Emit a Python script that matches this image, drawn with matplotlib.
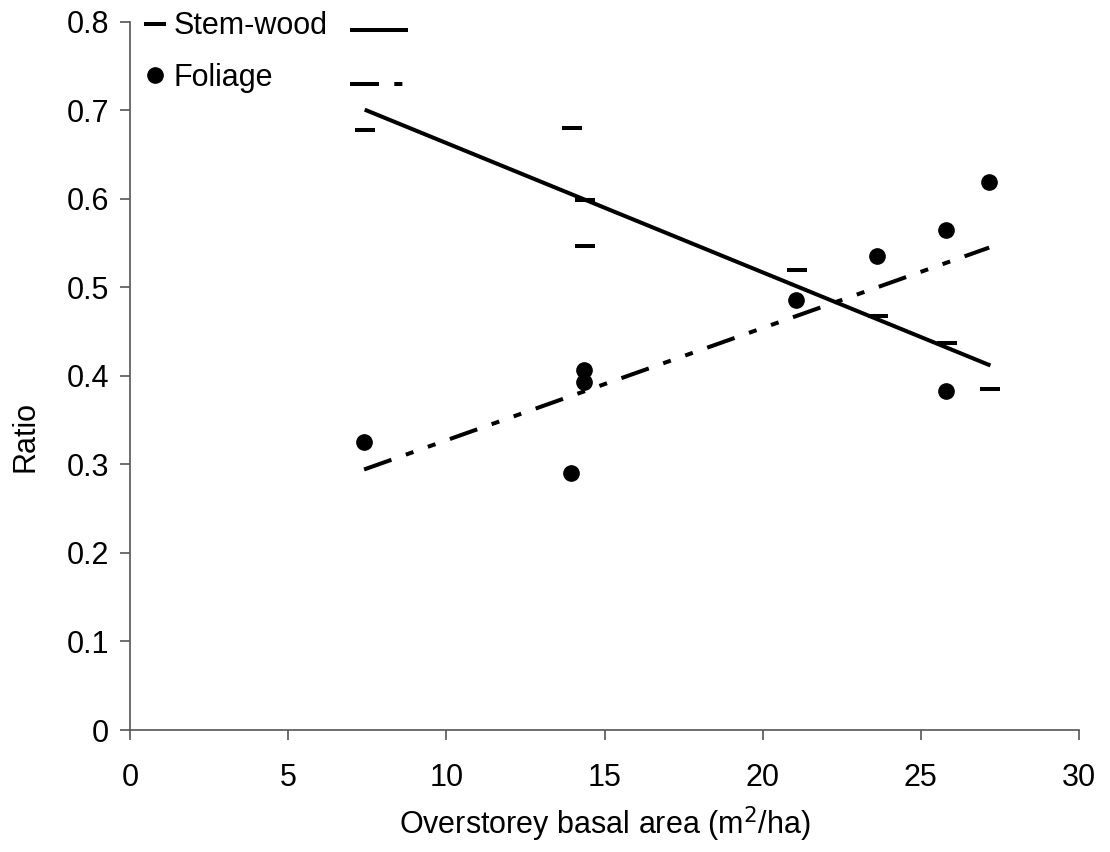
import numpy as np
import matplotlib
matplotlib.use("Agg")
import matplotlib.pyplot as plt
from matplotlib.lines import Line2D

plt.rcParams["font.family"] = ["Liberation Sans", "DejaVu Sans"]

# Data (overstorey basal area m2/ha vs ratio)
stem_x = [7.42, 13.98, 14.39, 14.39, 21.09, 23.65, 25.82, 27.20]
stem_y = [0.678, 0.680, 0.598, 0.546, 0.519, 0.467, 0.437, 0.385]

foliage_x = [7.40, 13.94, 14.34, 14.34, 21.06, 23.63, 25.78, 25.78, 27.16]
foliage_y = [0.325, 0.290, 0.407, 0.393, 0.485, 0.535, 0.565, 0.383, 0.619]

x_ticks = [0, 5, 10, 15, 20, 25, 30]
y_ticks = [0, 0.1, 0.2, 0.3, 0.4, 0.5, 0.6, 0.7, 0.8]

fig = plt.figure(figsize=(11.1, 8.52), dpi=100)
ax = fig.add_axes([130 / 1110, 1 - 730 / 852, (1079 - 130) / 1110, (730 - 21.5) / 852])

# scatter points
ax.plot(stem_x, stem_y, linestyle="none", marker="_", markersize=14.5,
        markeredgewidth=2.9, color="black", clip_on=False)
ax.plot(foliage_x, foliage_y, linestyle="none", marker="o", markersize=11,
        color="black", clip_on=False)

# linear trend lines (like Excel's trendline)
def trend(xs, ys):
    k, b = np.polyfit(xs, ys, 1)
    xx = np.array([min(xs), max(xs)])
    return xx, k * xx + b

tx, ty = trend(stem_x, stem_y)
ax.plot(tx, ty, color="black", lw=2.9, solid_capstyle="butt")
fx, fy = trend(foliage_x, foliage_y)
dashdotdot = (0, (7.2, 3.8, 2.0, 3.8, 2.0, 3.8))
ax.plot(fx, fy, color="black", lw=2.9, linestyle=dashdotdot)

ax.set_xlim(0, 30)
ax.set_ylim(0, 0.8)
ax.set_xticks(x_ticks)
ax.set_yticks(y_ticks)
ax.set_xticklabels([str(v) for v in x_ticks])
ax.set_yticklabels(["0" if v == 0 else f"{v:.1f}" for v in y_ticks])

for s in ["top", "right"]:
    ax.spines[s].set_visible(False)
for s in ["left", "bottom"]:
    ax.spines[s].set_color("#555555")
    ax.spines[s].set_linewidth(1.2)

ax.tick_params(axis="both", direction="out", length=7, width=1.2,
               color="#555555", labelsize=22)
ax.tick_params(axis="x", pad=17)
ax.tick_params(axis="y", pad=8)

ax.set_xlabel("Overstorey basal area (m$^2$/ha)", fontsize=22, labelpad=8)
ax.set_ylabel("Ratio", fontsize=22)
ax.yaxis.set_label_coords(-0.094, 0.414)

# legend: markers with labels, then the trend line samples in a second column
h1 = [Line2D([], [], linestyle="none", marker="_", markersize=15.5,
             markeredgewidth=2.9, color="black"),
      Line2D([], [], linestyle="none", marker="o", markersize=11, color="black")]
leg1 = fig.legend(h1, ["Stem-wood", "Foliage"], loc="center left",
                  bbox_to_anchor=(143 / 1110, 1 - 52 / 852), frameon=False,
                  fontsize=22, markerscale=1.0, handlelength=0.8,
                  handletextpad=0.2, labelspacing=0.69, borderpad=0,
                  borderaxespad=0)
h2 = [Line2D([], [], color="black", lw=2.9, solid_capstyle="butt"),
      Line2D([], [], color="black", lw=2.9, linestyle=dashdotdot)]
leg2 = fig.legend(h2, [" ", " "], loc="center left",
                  bbox_to_anchor=(350 / 1110, 1 - 60 / 852), frameon=False,
                  fontsize=20, handlelength=2.1, handletextpad=0,
                  labelspacing=1.0, borderpad=0, borderaxespad=0)

fig.savefig("out.png", dpi=100)
